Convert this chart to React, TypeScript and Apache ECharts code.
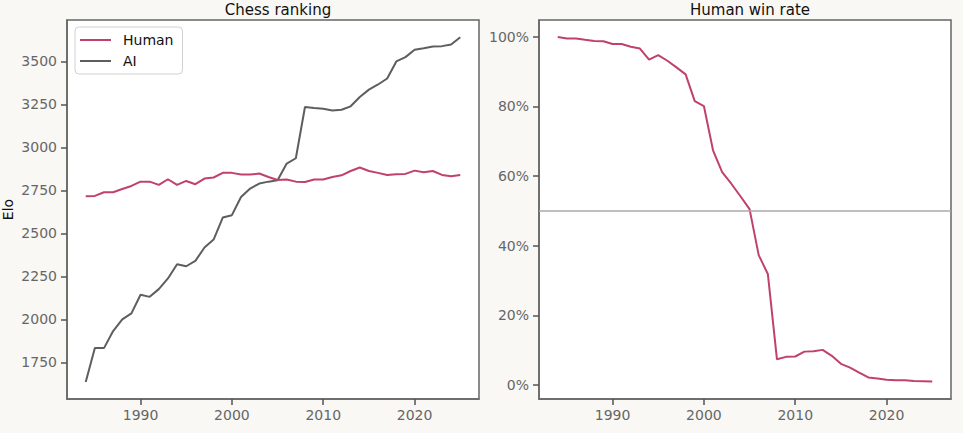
import React, { useEffect, useRef } from "react";
import * as echarts from "echarts";

const years: number[] = [
  1984, 1985, 1986, 1987, 1988, 1989, 1990, 1991, 1992, 1993, 1994, 1995, 1996, 1997,
  1998, 1999, 2000, 2001, 2002, 2003, 2004, 2005, 2006, 2007, 2008, 2009, 2010, 2011,
  2012, 2013, 2014, 2015, 2016, 2017, 2018, 2019, 2020, 2021, 2022, 2023, 2024, 2025,
];

const humanElo: number[] = [
  2716, 2718, 2739, 2739, 2758, 2776, 2801, 2801, 2782, 2815, 2782, 2805, 2786, 2819,
  2825, 2852, 2852, 2842, 2842, 2848, 2828, 2811, 2813, 2801, 2799, 2813, 2813, 2828,
  2838, 2863, 2883, 2863, 2852, 2840, 2844, 2846, 2865, 2856, 2863, 2840, 2832, 2840,
];

const aiElo: number[] = [
  1636, 1833, 1833, 1932, 2000, 2035, 2143, 2131, 2176, 2238, 2321, 2309, 2340, 2418,
  2464, 2592, 2606, 2712, 2761, 2790, 2801, 2809, 2906, 2937, 3235, 3229, 3225, 3215,
  3219, 3239, 3293, 3336, 3366, 3401, 3500, 3525, 3568, 3577, 3587, 3589, 3599, 3641,
];

const humanWinRate: number[] = [
  99.9, 99.5, 99.5, 99.1, 98.8, 98.7, 97.9, 97.9, 97.1, 96.6, 93.4, 94.7, 93.1, 91.2,
  89.2, 81.5, 80.1, 67.4, 61.1, 57.8, 54.2, 50.5, 37.3, 31.9, 7.4, 8.1, 8.2, 9.6,
  9.7, 10.1, 8.4, 6.1, 5.0, 3.6, 2.2, 1.9, 1.5, 1.4, 1.4, 1.2, 1.1, 1.0,
];

const yearTicks: number[] = [1990, 2000, 2010, 2020];
const eloTicks: number[] = [1750, 2000, 2250, 2500, 2750, 3000, 3250, 3500];
const pctTicks: number[] = [0, 20, 40, 60, 80, 100];

const FONT = "DejaVu Sans";
const HUMAN_COLOR = "#c0416f";
const AI_COLOR = "#5e5e5e";
const FRAME = "#666666";
const LABEL = "#666666";

export default function App() {
  const ref = useRef<HTMLDivElement>(null);

  useEffect(() => {
    if (!ref.current) return;
    const chart = echarts.init(ref.current, undefined, { renderer: "svg" });

    const tickStyle = (values: number[]) => ({
      show: true,
      customValues: values,
      length: 6,
      inside: false,
      lineStyle: { color: "#555555", width: 1.5 },
    });

    const xAxisBase = (gridIndex: number) => ({
      type: "value",
      gridIndex,
      min: 1981.95,
      max: 2027.05,
      axisLine: { show: true, onZero: false, lineStyle: { color: FRAME, width: 1.5 } },
      splitLine: { show: false },
      axisTick: tickStyle(yearTicks),
      axisLabel: {
        customValues: yearTicks,
        color: LABEL,
        fontFamily: FONT,
        fontSize: 14,
        margin: 9,
        formatter: (v: number) => String(v),
      },
    });

    const option: any = {
      animation: false,
      backgroundColor: "#f9f8f5",
      textStyle: { fontFamily: FONT },
      title: [
        {
          text: "Chess ranking",
          left: 273,
          top: -3,
          textAlign: "center",
          textStyle: { fontFamily: FONT, fontSize: 15, fontWeight: "normal", color: "#111" },
        },
        {
          text: "Human win rate",
          left: 745,
          top: -3,
          textAlign: "center",
          textStyle: { fontFamily: FONT, fontSize: 15, fontWeight: "normal", color: "#111" },
        },
      ],
      legend: {
        data: ["Human", "AI"],
        orient: "vertical",
        left: 75,
        top: 27,
        backgroundColor: "#ffffff",
        borderColor: "#d0d0d0",
        borderWidth: 1,
        borderRadius: 4,
        padding: [6, 9, 6, 5],
        itemWidth: 31,
        itemHeight: 2,
        itemGap: 7,
        icon: "rect",
        textStyle: { fontFamily: FONT, fontSize: 14, color: "#111", padding: [0, 0, 0, 7] },
      },
      grid: [
        {
          left: 67,
          top: 20,
          width: 412,
          height: 379,
          show: true,
          backgroundColor: "#ffffff",
          borderColor: FRAME,
          borderWidth: 1.5,
        },
        {
          left: 539,
          top: 20,
          width: 412,
          height: 379,
          show: true,
          backgroundColor: "#ffffff",
          borderColor: FRAME,
          borderWidth: 1.5,
        },
      ],
      xAxis: [xAxisBase(0), xAxisBase(1)],
      yAxis: [
        {
          type: "value",
          gridIndex: 0,
          min: 1537,
          max: 3741,
          name: "Elo",
          nameLocation: "middle",
          nameGap: 52,
          nameTextStyle: { fontFamily: FONT, fontSize: 14, color: "#111" },
          axisLine: { show: true, onZero: false, lineStyle: { color: FRAME, width: 1.5 } },
          splitLine: { show: false },
          axisTick: tickStyle(eloTicks),
          axisLabel: {
            customValues: eloTicks,
            color: LABEL,
            fontFamily: FONT,
            fontSize: 14,
            margin: 10,
            formatter: (v: number) => String(v),
          },
        },
        {
          type: "value",
          gridIndex: 1,
          min: -4.0,
          max: 104.8,
          axisLine: { show: true, onZero: false, lineStyle: { color: FRAME, width: 1.5 } },
          splitLine: { show: false },
          axisTick: tickStyle(pctTicks),
          axisLabel: {
            customValues: pctTicks,
            color: LABEL,
            fontFamily: FONT,
            fontSize: 14,
            margin: 10,
            formatter: (v: number) => `${v}%`,
          },
        },
      ],
      series: [
        {
          name: "Human",
          type: "line",
          xAxisIndex: 0,
          yAxisIndex: 0,
          data: years.map((y, i) => [y, humanElo[i]]),
          showSymbol: false,
          symbol: "none",
          lineStyle: { color: HUMAN_COLOR, width: 2 },
          itemStyle: { color: HUMAN_COLOR },
          z: 3,
        },
        {
          name: "AI",
          type: "line",
          xAxisIndex: 0,
          yAxisIndex: 0,
          data: years.map((y, i) => [y, aiElo[i]]),
          showSymbol: false,
          symbol: "none",
          lineStyle: { color: AI_COLOR, width: 2 },
          itemStyle: { color: AI_COLOR },
          z: 2,
        },
        {
          name: "Human win rate",
          type: "line",
          xAxisIndex: 1,
          yAxisIndex: 1,
          data: years.map((y, i) => [y, humanWinRate[i]]),
          showSymbol: false,
          symbol: "none",
          lineStyle: { color: HUMAN_COLOR, width: 2 },
          itemStyle: { color: HUMAN_COLOR },
          markLine: {
            silent: true,
            symbol: "none",
            label: { show: false },
            lineStyle: { color: "#aaaaaa", width: 1.5, type: "solid" },
            data: [{ yAxis: 50 }],
          },
        },
      ],
    };

    chart.setOption(option);
    return () => chart.dispose();
  }, []);

  return (
    <div
      ref={ref}
      style={{ position: "fixed", left: 0, top: 0, width: 963, height: 433 }}
    />
  );
}
